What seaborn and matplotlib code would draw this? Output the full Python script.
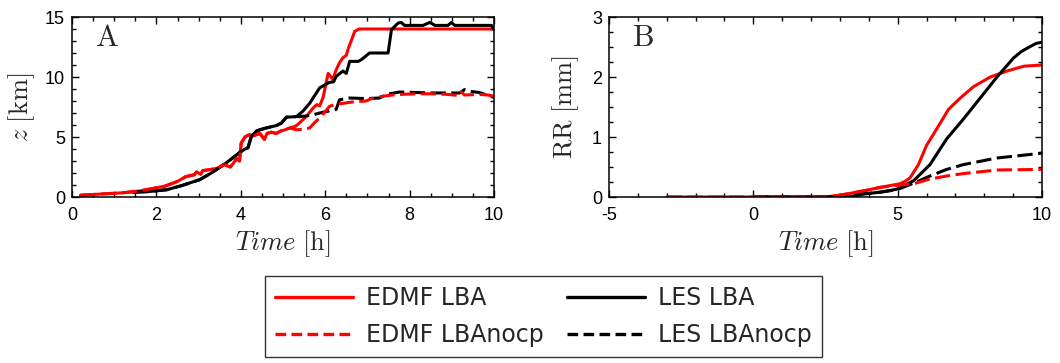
import numpy as np
import pandas as pd
import matplotlib
matplotlib.use("Agg")
import matplotlib.pyplot as plt
from matplotlib.lines import Line2D
from matplotlib.ticker import MultipleLocator
import seaborn as sns

# ---------------- Panel A: cloud-top height z [km] ----------------
a_edmf_lba_t = [0.2, 0.7, 1.2, 1.6, 1.9, 2.2, 2.5, 2.7, 2.9, 2.95, 3.05, 3.1, 3.3, 3.45,
                3.6, 3.75, 3.82, 3.9, 3.97, 4.01, 4.1, 4.2, 4.3, 4.45, 4.56, 4.62, 4.72,
                4.84, 4.95, 5.05, 5.16, 5.3, 5.4, 5.55, 5.71, 5.8, 5.87, 5.95, 6.07, 6.18,
                6.26, 6.34, 6.42, 6.5, 6.55, 6.7, 6.8, 10.0]
a_edmf_lba_z = [0.15, 0.25, 0.35, 0.5, 0.7, 0.9, 1.3, 1.7, 1.85, 2.1, 1.9, 2.2, 2.3, 2.4,
                2.7, 2.5, 2.8, 3.2, 3.0, 4.5, 5.0, 5.2, 5.1, 5.3, 4.8, 5.3, 5.4,
                5.3, 5.5, 5.6, 5.75, 5.9, 6.2, 6.7, 7.4, 7.7, 7.6, 8.3, 10.3, 9.8,
                10.6, 11.2, 11.6, 11.8, 12.4, 13.8, 14.0, 14.0]

a_edmf_nocp_t = [0.2, 0.7, 1.2, 1.6, 1.9, 2.2, 2.5, 2.7, 2.9, 2.95, 3.05, 3.1, 3.3, 3.45,
                 3.6, 3.75, 3.82, 3.9, 3.97, 4.01, 4.1, 4.2, 4.3, 4.45, 4.56, 4.62, 4.72,
                 4.84, 4.95, 5.05, 5.16, 5.32, 5.5, 5.63, 5.75, 5.87, 6.0, 6.1, 6.25,
                 6.42, 6.6, 6.74, 6.97, 7.1, 7.37, 7.6, 7.76, 8.2, 8.55, 8.9, 9.19,
                 9.23, 9.3, 9.66, 9.85, 10.0]
a_edmf_nocp_z = [0.15, 0.25, 0.35, 0.5, 0.7, 0.9, 1.3, 1.7, 1.85, 2.1, 1.9, 2.2, 2.3, 2.4,
                 2.7, 2.5, 2.8, 3.2, 3.0, 4.5, 5.0, 5.2, 5.1, 5.3, 4.8, 5.3, 5.4,
                 5.3, 5.5, 5.6, 5.75, 5.6, 5.65, 5.75, 6.2, 6.6, 7.1, 7.55, 7.75,
                 7.8, 7.9, 7.95, 8.0, 8.2, 8.4, 8.5, 8.55, 8.6, 8.6, 8.55, 8.45,
                 8.75, 8.5, 8.55, 8.5, 8.4]

a_les_lba_t = [1.45, 1.8, 2.24, 2.6, 3.03, 3.3, 3.66, 3.97, 4.1, 4.17, 4.25, 4.37, 4.45,
               4.6, 4.84, 4.96, 5.08, 5.32, 5.47, 5.63, 5.87, 6.1, 6.2, 6.26, 6.42, 6.5,
               6.58, 6.78, 6.86, 7.05, 7.49, 7.57, 7.73, 7.8, 7.88, 8.32, 8.48, 8.6,
               8.91, 8.99, 9.07, 9.94, 10.0]
a_les_lba_z = [0.4, 0.45, 0.6, 0.95, 1.45, 2.0, 2.85, 3.7, 4.0, 4.1, 5.05, 5.5, 5.6,
               5.75, 5.95, 6.15, 6.65, 6.7, 7.15, 7.8, 9.1, 9.55, 9.6, 10.05, 10.5, 10.3,
               11.3, 11.3, 11.45, 12.0, 12.0, 13.95, 14.5, 14.55, 14.3, 14.3, 14.55, 14.3,
               14.3, 14.55, 14.3, 14.3, 13.95]

a_les_nocp_t = [1.45, 1.8, 2.24, 2.6, 3.03, 3.3, 3.66, 3.97, 4.1, 4.17, 4.25, 4.37, 4.45,
                4.6, 4.84, 4.96, 5.08, 5.32, 5.4, 5.55, 5.71, 5.87, 6.0, 6.26, 6.34,
                6.58, 6.97, 7.29, 7.45, 7.76, 8.55, 9.19, 9.3, 9.45, 9.66, 10.0]
a_les_nocp_z = [0.4, 0.45, 0.6, 0.95, 1.45, 2.0, 2.85, 3.7, 4.0, 4.1, 5.05, 5.5, 5.6,
                5.75, 5.95, 6.15, 6.65, 6.7, 6.7, 6.75, 6.85, 7.0, 7.1, 7.3, 8.1,
                8.25, 8.2, 8.25, 8.55, 8.75, 8.67, 8.67, 8.95, 8.8, 8.7, 8.3]

# ---------------- Panel B: accumulated rain RR [mm] ----------------
b_edmf_lba_t = [-3.0, 2.5, 3.0, 3.8, 4.39, 5.08, 5.25, 5.43, 5.72, 6.0, 6.36, 6.76,
                7.17, 7.63, 8.21, 8.79, 9.37, 10.0]
b_edmf_lba_rr = [0.0, 0.0, 0.03, 0.1, 0.16, 0.22, 0.26, 0.32, 0.54, 0.86, 1.14, 1.46,
                 1.65, 1.84, 2.0, 2.1, 2.18, 2.2]

b_edmf_nocp_t = [-3.0, 2.5, 3.0, 3.8, 4.39, 5.08, 5.55, 6.12, 6.7, 7.28, 8.44, 10.0]
b_edmf_nocp_rr = [0.0, 0.0, 0.03, 0.1, 0.16, 0.2, 0.22, 0.3, 0.35, 0.39, 0.45, 0.46]

b_les_lba_t = [0.0, 3.3, 3.8, 4.39, 4.97, 5.55, 6.12, 6.7, 7.28, 7.86, 8.44, 9.02,
               9.3, 9.6, 9.8, 10.0]
b_les_lba_rr = [0.0, 0.0, 0.05, 0.08, 0.13, 0.27, 0.54, 0.97, 1.3, 1.65, 2.0, 2.32,
                2.43, 2.51, 2.56, 2.58]

b_les_nocp_t = [0.0, 3.3, 3.8, 4.39, 4.97, 5.55, 6.12, 6.7, 7.28, 8.44, 10.0]
b_les_nocp_rr = [0.0, 0.0, 0.05, 0.08, 0.12, 0.23, 0.35, 0.46, 0.54, 0.65, 0.73]

series_labels = ["EDMF LBA", "EDMF LBAnocp", "LES LBA", "LES LBAnocp"]

# ---------------- styling ----------------
sns.set_style("ticks")
plt.rcParams.update({
    "font.family": ["Liberation Sans", "DejaVu Sans"],
    "mathtext.fontset": "cm",
    "axes.unicode_minus": False,
    "axes.linewidth": 1.1,
    "axes.edgecolor": "black",
    "xtick.direction": "in",
    "ytick.direction": "in",
    "xtick.top": True,
    "ytick.right": True,
    "xtick.major.size": 5,
    "ytick.major.size": 5,
    "xtick.minor.size": 3,
    "ytick.minor.size": 3,
    "xtick.major.width": 1.0,
    "ytick.major.width": 1.0,
    "xtick.minor.width": 1.0,
    "ytick.minor.width": 1.0,
    "xtick.color": "black",
    "ytick.color": "black",
})

LW = 2.2
DASH = (5, 1.8)

fig = plt.figure(figsize=(10.6, 3.63), dpi=100)
axA = fig.add_axes([72 / 1060, 1 - 197 / 363, 422 / 1060, 180 / 363])
axB = fig.add_axes([609 / 1060, 1 - 197 / 363, 433 / 1060, 180 / 363])


def draw(ax, t, v, color, dashed):
    df = pd.DataFrame({"t": t, "v": v})
    line = sns.lineplot(data=df, x="t", y="v", ax=ax, color=color, lw=LW,
                        estimator=None, sort=False, legend=False).lines[-1]
    if dashed:
        line.set_dashes(DASH)
    return line


# panel A
draw(axA, a_edmf_lba_t, a_edmf_lba_z, "red", False)
draw(axA, a_les_lba_t, a_les_lba_z, "black", False)
draw(axA, a_les_nocp_t, a_les_nocp_z, "black", True)
draw(axA, a_edmf_nocp_t, a_edmf_nocp_z, "red", True)

# panel B
draw(axB, b_edmf_lba_t, b_edmf_lba_rr, "red", False)
draw(axB, b_les_lba_t, b_les_lba_rr, "black", False)
draw(axB, b_les_nocp_t, b_les_nocp_rr, "black", True)
draw(axB, b_edmf_nocp_t, b_edmf_nocp_rr, "red", True)

axA.set_xlim(0, 10)
axA.set_ylim(0, 15)
axA.xaxis.set_major_locator(MultipleLocator(2))
axA.xaxis.set_minor_locator(MultipleLocator(0.5))
axA.yaxis.set_major_locator(MultipleLocator(5))
axA.yaxis.set_minor_locator(MultipleLocator(1))

axB.set_xlim(-5, 10)
axB.set_ylim(0, 3)
axB.xaxis.set_major_locator(MultipleLocator(5))
axB.xaxis.set_minor_locator(MultipleLocator(1))
axB.yaxis.set_major_locator(MultipleLocator(1))
axB.yaxis.set_minor_locator(MultipleLocator(0.25))

for ax in (axA, axB):
    ax.tick_params(which="both", labelsize=13, top=True, right=True)
    ax.tick_params(axis="x", pad=7)
    ax.tick_params(axis="y", pad=5)
    ax.set_xlabel(r"$Time\ [\mathrm{h}]$", fontsize=19, labelpad=3)

axA.set_ylabel(r"$z\ [\mathrm{km}]$", fontsize=19, labelpad=6)
axB.set_ylabel(r"$\mathrm{RR\ [mm]}$", fontsize=19, labelpad=8)

axA.text(0.055, 0.965, r"$\mathrm{A}$", transform=axA.transAxes, fontsize=22,
         ha="left", va="top")
axB.text(0.053, 0.965, r"$\mathrm{B}$", transform=axB.transAxes, fontsize=22,
         ha="left", va="top")

# legend below both panels
handles = [
    Line2D([], [], color="red", lw=2.4),
    Line2D([], [], color="red", lw=2.4, dashes=(3.2, 1.6)),
    Line2D([], [], color="black", lw=2.4),
    Line2D([], [], color="black", lw=2.4, dashes=(3.2, 1.6)),
]
leg = fig.legend(handles, series_labels, ncol=2, loc="upper center",
                 bbox_to_anchor=(543.5 / 1060, 1 - 276 / 363),
                 prop={"family": "DejaVu Sans", "size": 17},
                 frameon=True, fancybox=False, edgecolor="black",
                 handlelength=3.3, handletextpad=0.55, columnspacing=1.0,
                 labelspacing=0.55, borderpad=0.42, borderaxespad=0)
leg.get_frame().set_linewidth(1.0)

fig.savefig("out.png", dpi=100)
